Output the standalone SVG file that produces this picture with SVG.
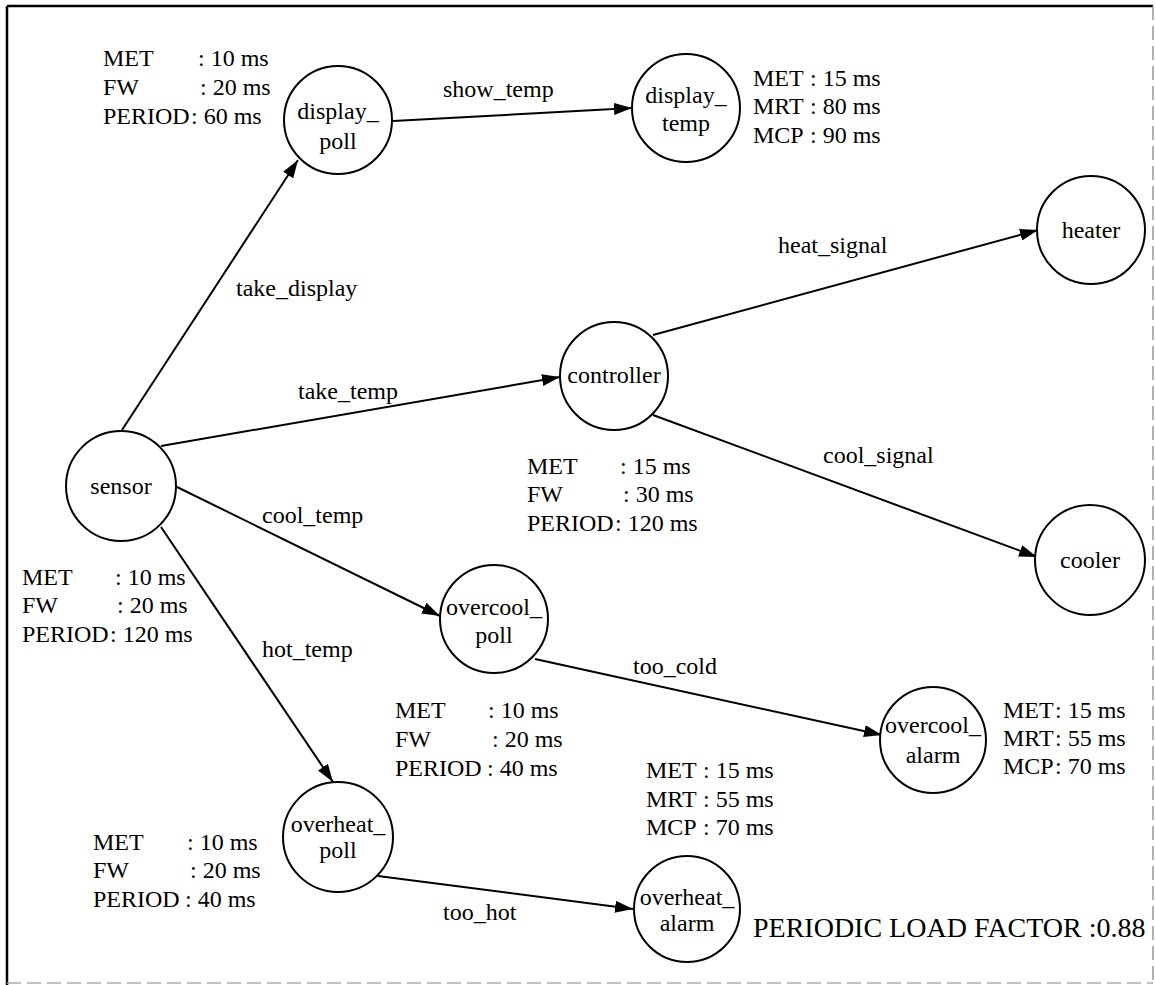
<svg xmlns="http://www.w3.org/2000/svg" width="1155" height="985" viewBox="0 0 1155 985">
<defs>
<marker id="arr" markerWidth="18" markerHeight="12" refX="18" refY="6" orient="auto" markerUnits="userSpaceOnUse">
<path d="M0,0 L18,6 L0,12 z" fill="#000"/>
</marker>
<style>
.n circle{fill:#fff;stroke:#000;stroke-width:2}
.n text{text-anchor:middle}
.e line{stroke:#000;stroke-width:2;marker-end:url(#arr)}
</style>
</defs>
<rect width="1155" height="985" fill="#fff"/>
<g id="frame" fill="none">
<line x1="7" y1="6" x2="1153" y2="6" stroke="#000" stroke-width="2.5"/>
<line x1="7" y1="6" x2="7" y2="985" stroke="#000" stroke-width="2.5"/>
<line x1="1153" y1="6" x2="1153" y2="983" stroke="#999" stroke-width="1.5" stroke-dasharray="14,6"/>
<line x1="7" y1="983" x2="1153" y2="983" stroke="#aaa" stroke-width="1.5" stroke-dasharray="14,6"/>
</g>
<g id="connectors" class="e">
<line x1="122" y1="430" x2="298" y2="160"/>
<line x1="161" y1="446" x2="560" y2="377"/>
<line x1="393" y1="121" x2="632" y2="108"/>
<line x1="653" y1="335" x2="1038" y2="230"/>
<line x1="653" y1="415" x2="1037" y2="557"/>
<line x1="177" y1="487" x2="440" y2="616"/>
<line x1="161" y1="527" x2="333" y2="782"/>
<line x1="535" y1="659" x2="882" y2="735"/>
<line x1="378" y1="876" x2="633" y2="909"/>
</g>
<g font-family="Liberation Serif, Times New Roman, Tinos, DejaVu Serif, serif" font-size="24" fill="#000">
<g id="edge-labels">
<text x="236" y="296">take_display</text>
<text x="298" y="399">take_temp</text>
<text x="443" y="97">show_temp</text>
<text x="778" y="253">heat_signal</text>
<text x="823" y="463">cool_signal</text>
<text x="262" y="523">cool_temp</text>
<text x="262" y="657">hot_temp</text>
<text x="633" y="674">too_cold</text>
<text x="443" y="920">too_hot</text>
</g>
<g id="sensor" class="n"><circle cx="121" cy="486" r="55"/><text x="121" y="494">sensor</text></g>
<g id="display_poll" class="n"><circle cx="338" cy="120" r="54"/><text x="338" y="119">display_</text><text x="338" y="149">poll</text></g>
<g id="display_temp" class="n"><circle cx="686" cy="108" r="54"/><text x="686" y="103">display_</text><text x="686" y="131">temp</text></g>
<g id="controller" class="n"><circle cx="614" cy="376" r="54"/><text x="614" y="383">controller</text></g>
<g id="heater" class="n"><circle cx="1091" cy="230" r="54"/><text x="1091" y="238">heater</text></g>
<g id="cooler" class="n"><circle cx="1090" cy="560" r="55"/><text x="1090" y="568">cooler</text></g>
<g id="overcool_poll" class="n"><circle cx="494" cy="619" r="54"/><text x="494" y="615">overcool_</text><text x="494" y="643">poll</text></g>
<g id="overcool_alarm" class="n"><circle cx="933" cy="740" r="53"/><text x="933" y="733">overcool_</text><text x="933" y="763">alarm</text></g>
<g id="overheat_poll" class="n"><circle cx="338" cy="837" r="55"/><text x="338" y="832">overheat_</text><text x="338" y="858">poll</text></g>
<g id="overheat_alarm" class="n"><circle cx="687" cy="909" r="53"/><text x="687" y="905">overheat_</text><text x="687" y="931">alarm</text></g>
<g id="stats">
<text x="103" y="66">MET</text><text x="198" y="66">: 10 ms</text>
<text x="103" y="95">FW</text><text x="200" y="95">: 20 ms</text>
<text x="103" y="124">PERIOD</text><text x="191" y="124">: 60 ms</text>
<text x="753" y="86">MET</text><text x="810" y="86">: 15 ms</text>
<text x="753" y="114">MRT</text><text x="810" y="114">: 80 ms</text>
<text x="753" y="143">MCP</text><text x="810" y="143">: 90 ms</text>
<text x="527" y="474">MET</text><text x="620" y="474">: 15 ms</text>
<text x="527" y="502">FW</text><text x="623" y="502">: 30 ms</text>
<text x="527" y="531">PERIOD</text><text x="615" y="531">: 120 ms</text>
<text x="22" y="585">MET</text><text x="115" y="585">: 10 ms</text>
<text x="22" y="613">FW</text><text x="117" y="613">: 20 ms</text>
<text x="22" y="642">PERIOD</text><text x="110" y="642">: 120 ms</text>
<text x="395" y="718">MET</text><text x="488" y="718">: 10 ms</text>
<text x="395" y="747">FW</text><text x="492" y="747">: 20 ms</text>
<text x="395" y="776">PERIOD</text><text x="487" y="776">: 40 ms</text>
<text x="93" y="850">MET</text><text x="187" y="850">: 10 ms</text>
<text x="93" y="878">FW</text><text x="190" y="878">: 20 ms</text>
<text x="93" y="907">PERIOD</text><text x="185" y="907">: 40 ms</text>
<text x="646" y="778">MET</text><text x="703" y="778">: 15 ms</text>
<text x="646" y="807">MRT</text><text x="703" y="807">: 55 ms</text>
<text x="646" y="835">MCP</text><text x="703" y="835">: 70 ms</text>
<text x="1003" y="718">MET</text><text x="1055" y="718">: 15 ms</text>
<text x="1003" y="746">MRT</text><text x="1055" y="746">: 55 ms</text>
<text x="1003" y="774">MCP</text><text x="1055" y="774">: 70 ms</text>
</g>
<text id="load-factor" x="753" y="937" font-size="28">PERIODIC LOAD FACTOR :0.88</text>
</g>
</svg>
